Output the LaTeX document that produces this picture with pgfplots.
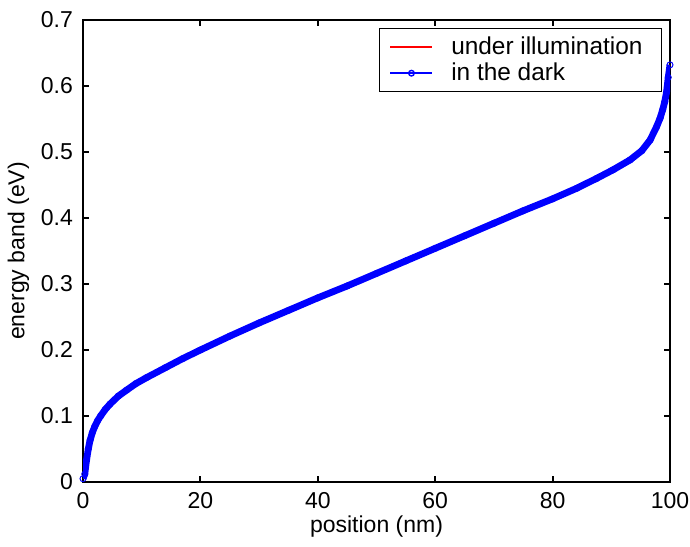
\documentclass[border=0pt]{standalone}
\usepackage{fontspec}
\setmainfont{Liberation Sans}
\usepackage{pgfplots}
\pgfplotsset{compat=1.18}
\usetikzlibrary{calc}

% band edge across the 100 nm layer
\pgfplotstableread{
pos E
0 0.005
0.3 0.012
0.6 0.033
0.9 0.050
1.2 0.063
1.6 0.075
2.0 0.084
2.5 0.093
3.0 0.100
3.8 0.110
4.6 0.118
6.0 0.130
7.4 0.139
9.0 0.149
10.8 0.158
14 0.173
17 0.187
20 0.200
25 0.221
30 0.241
35 0.260
40 0.279
45 0.297
50 0.316
55 0.335
60 0.354
65 0.373
70 0.392
75 0.411
80 0.429
84.1 0.445
87.5 0.460
90.3 0.473
93.2 0.488
95.2 0.502
96.6 0.518
97.7 0.538
98.3 0.551
98.75 0.564
99.1 0.576
99.4 0.590
99.7 0.613
100 0.632
}\band

\begin{document}
\fontsize{11.5}{13.8}\selectfont
\begin{tikzpicture}
\begin{axis}[
  scale only axis,
  width=293.5pt, height=231pt,
  xmin=0, xmax=100, ymin=0, ymax=0.7,
  xtick={0,20,...,100},
  ytick={0,0.1,...,0.7},
  /pgf/number format/assume math mode=true,
  /pgf/number format/fixed,
  yticklabel style={/pgf/number format/precision=1},
  tick align=inside,
  major tick length=3pt,
  axis line style={line width=1pt},
  every tick/.style={black, line width=1pt},
  xticklabel style={yshift=-1pt},
  yticklabel style={xshift=-1pt},
  xlabel={position (nm)},
  ylabel={energy band (eV)},
  xlabel style={yshift=4pt},
  ylabel style={yshift=-2pt},
  legend style={
    at={(rel axis cs:1,1)}, anchor=north east,
    xshift=-4pt, yshift=-4pt,
    draw=black, line width=0.5pt,
    cells={anchor=west},
    font=\fontsize{12.2}{14.5}\selectfont,
    row sep=-1.5pt,
    inner xsep=2pt, inner ysep=2pt,
  },
  legend image code/.code={
    \path (-3pt,0pt) (28pt,0pt);
    \draw[mark repeat=2, mark phase=2]
      plot coordinates {(0pt,0pt) (10.5pt,0pt) (21pt,0pt)};
  },
]
\addplot[red, line width=0.8pt] table[x=pos, y=E] {\band};
\addlegendentry{under illumination\rule{5.5pt}{0pt}}
\addplot[blue, line width=3.4pt, line join=round, forget plot]
  table[x=pos, y=E] {\band};
\addplot[blue, only marks, mark=o, mark size=1.5pt, line width=0.5pt,
  mark options={fill=white}, forget plot] table[x=pos, y=E] {\band};
\addlegendimage{blue, line width=0.8pt, mark=o, mark size=1.4pt,
  mark options={line width=0.7pt, fill=white}}
\addlegendentry{in the dark}
\end{axis}
\pgfresetboundingbox
\path ($(current axis.south west)+(-41.5pt,-32.5pt)$)
  rectangle ($(current axis.north east)+(10pt,10pt)$);
\end{tikzpicture}
\end{document}
